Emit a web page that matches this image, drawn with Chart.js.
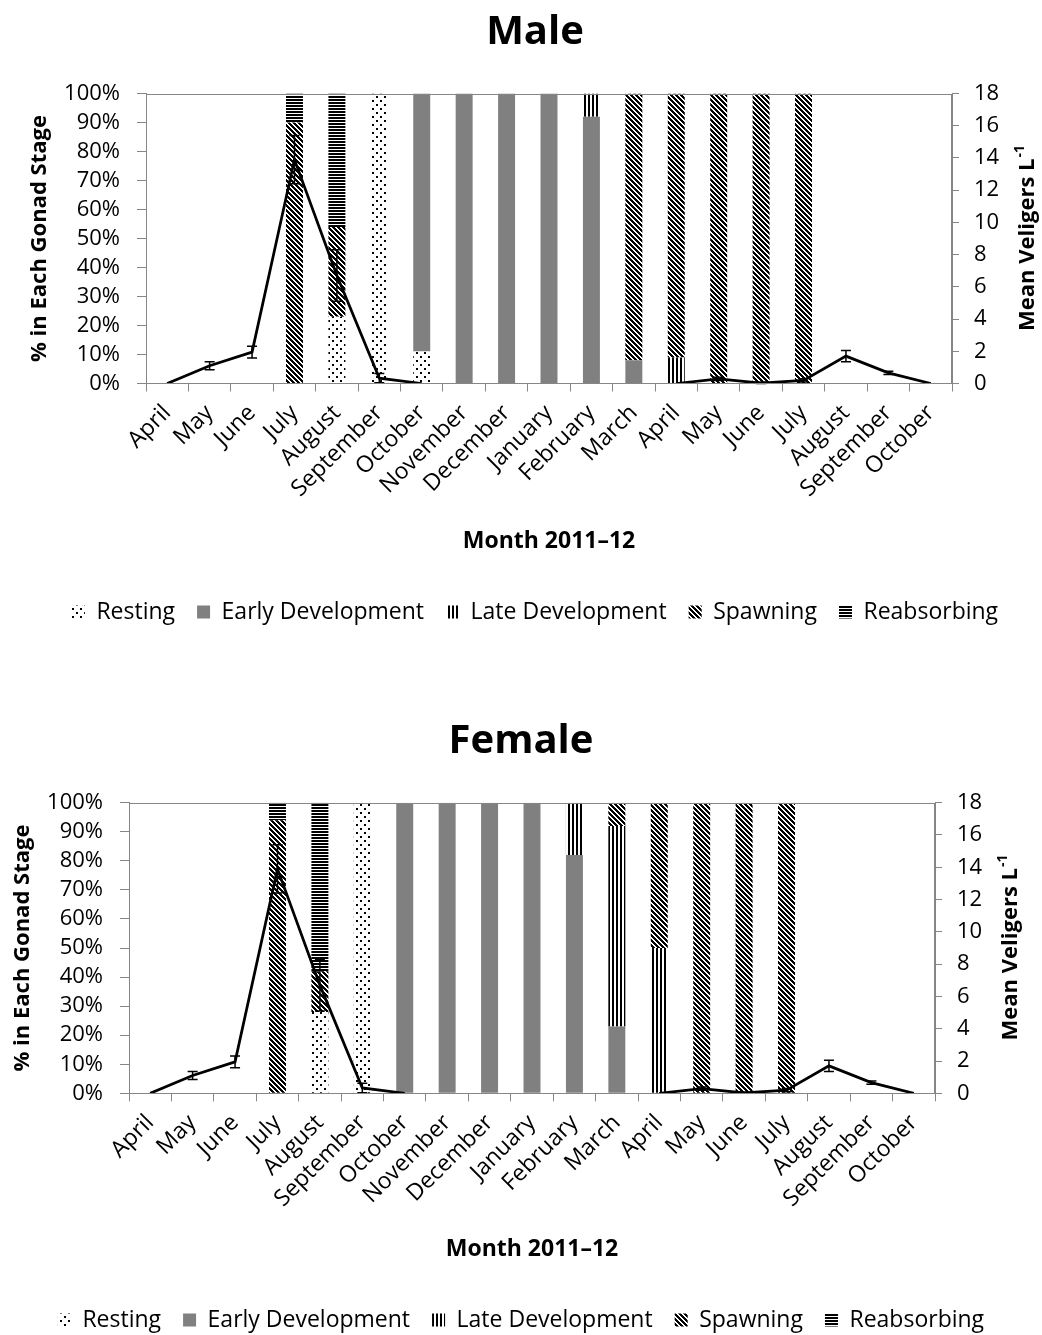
<!DOCTYPE html>
<html>
<head>
<meta charset="utf-8">
<script src="https://cdn.jsdelivr.net/npm/chart.js@4.4.0/dist/chart.umd.min.js"></script>
<style>
  html, body { margin: 0; padding: 0; background: #fff; overflow: hidden; }
  .box { position: absolute; left: 0; width: 1042px; }
  #maleBox { top: 0; }
  #femaleBox { top: 660px; }
</style>
</head>
<body>
<div class="box" id="maleBox"><canvas id="male" width="1042" height="660"></canvas></div>
<div class="box" id="femaleBox"><canvas id="female" width="1042" height="682"></canvas></div>
<script>
var months = ['April', 'May', 'June', 'July', 'August', 'September', 'October', 'November', 'December',
  'January', 'February', 'March', 'April', 'May', 'June', 'July', 'August', 'September', 'October'];

// % of animals in each gonad stage, male
var maleResting     = [0, 0, 0, 0, 23, 100, 11, 0, 0, 0, 0, 0, 0, 0, 0, 0, 0, 0, 0];
var maleEarly       = [0, 0, 0, 0, 0, 0, 89, 100, 100, 100, 92, 8, 0, 0, 0, 0, 0, 0, 0];
var maleLate        = [0, 0, 0, 0, 0, 0, 0, 0, 0, 0, 8, 0, 9, 0, 0, 0, 0, 0, 0];
var maleSpawning    = [0, 0, 0, 90, 31, 0, 0, 0, 0, 0, 0, 92, 91, 100, 100, 100, 0, 0, 0];
var maleReabsorbing = [0, 0, 0, 10, 46, 0, 0, 0, 0, 0, 0, 0, 0, 0, 0, 0, 0, 0, 0];

// % of animals in each gonad stage, female
var femaleResting     = [0, 0, 0, 0, 28, 100, 0, 0, 0, 0, 0, 0, 0, 0, 0, 0, 0, 0, 0];
var femaleEarly       = [0, 0, 0, 0, 0, 0, 100, 100, 100, 100, 82, 23, 0, 0, 0, 0, 0, 0, 0];
var femaleLate        = [0, 0, 0, 0, 0, 0, 0, 0, 0, 0, 18, 69, 50, 0, 0, 0, 0, 0, 0];
var femaleSpawning    = [0, 0, 0, 94, 14, 0, 0, 0, 0, 0, 0, 8, 50, 100, 100, 100, 0, 0, 0];
var femaleReabsorbing = [0, 0, 0, 6, 58, 0, 0, 0, 0, 0, 0, 0, 0, 0, 0, 0, 0, 0, 0];

// mean veligers per litre and error
var veligers   = [0, 1.1, 1.95, 13.9, 6.7, 0.33, 0, null, null, null, null, null, 0, 0.29, 0.02, 0.19, 1.7, 0.66, 0];
var veligerErr = [0, 0.25, 0.36, 1.5, 1.6, 0.29, 0, null, null, null, null, null, 0, 0.1, 0.05, 0.1, 0.35, 0.1, 0];

var FONT = "'Open Sans', sans-serif";
var AXIS_GREY = '#868686';
Chart.defaults.font.family = FONT;
Chart.defaults.color = '#000';

function tile(w, h, paint) {
  var c = document.createElement('canvas');
  c.width = w; c.height = h;
  var g = c.getContext('2d');
  g.fillStyle = '#fff';
  g.fillRect(0, 0, w, h);
  g.fillStyle = '#000';
  paint(g);
  return g.createPattern(c, 'repeat');
}

var patResting = tile(8, 8, function (g) { g.fillRect(0, 0, 2, 2); g.fillRect(4, 4, 2, 2); });
var patLate = tile(4, 4, function (g) { g.fillRect(0, 0, 2, 4); });
var patReabs = tile(3, 3, function (g) { g.fillRect(0, 0, 3, 2); });
var patSpawn = tile(5, 5, function (g) {
  for (var y = 0; y < 5; y++)
    for (var x = 0; x < 5; x++)
      if ((x - y + 5) % 5 < 3) g.fillRect(x, y, 1, 1);
});

var errorBars = {
  id: 'errorBars',
  afterDatasetsDraw: function (chart) {
    var idx = 5;
    var ds = chart.data.datasets[idx];
    var meta = chart.getDatasetMeta(idx);
    var ys = chart.scales.y1;
    var ctx = chart.ctx;
    ctx.save();
    ctx.strokeStyle = '#000';
    ctx.lineWidth = 1.5;
    meta.data.forEach(function (pt, i) {
      var v = ds.data[i], e = ds.errors[i];
      if (v == null || !e) return;
      var x = pt.x;
      var t = ys.getPixelForValue(v + e);
      var b = ys.getPixelForValue(Math.max(0, v - e));
      ctx.beginPath();
      ctx.moveTo(x, t); ctx.lineTo(x, b);
      ctx.moveTo(x - 5, t); ctx.lineTo(x + 5, t);
      ctx.moveTo(x - 5, b); ctx.lineTo(x + 5, b);
      ctx.stroke();
    });
    ctx.restore();
  }
};

var frame = {
  id: 'frame',
  afterDraw: function (chart) {
    var a = chart.chartArea, ctx = chart.ctx;
    ctx.save();
    ctx.strokeStyle = AXIS_GREY;
    ctx.lineWidth = 1;
    ctx.strokeRect(Math.round(a.left) + 0.5, Math.round(a.top) + 0.5,
      Math.round(a.right - a.left) - 1, Math.round(a.bottom - a.top) - 1);
    ctx.restore();
  }
};

// right axis title, reads bottom to top, with superscript
var rightTitle = {
  id: 'rightTitle',
  afterDraw: function (chart) {
    var a = chart.chartArea, ctx = chart.ctx;
    var main = 'Mean Veligers L', sup = '-1';
    ctx.save();
    ctx.fillStyle = '#000';
    ctx.font = 'bold 22px ' + FONT;
    var w1 = ctx.measureText(main).width;
    ctx.font = 'bold 14px ' + FONT;
    var w2 = ctx.measureText(sup).width;
    ctx.translate(a.right + 76, (a.top + a.bottom) / 2);
    ctx.rotate(-Math.PI / 2);
    ctx.textBaseline = 'middle';
    ctx.font = 'bold 22px ' + FONT;
    ctx.fillText(main, -(w1 + w2) / 2, 0);
    ctx.font = 'bold 14px ' + FONT;
    ctx.fillText(sup, -(w1 + w2) / 2 + w1 + 1, -8);
    ctx.restore();
  }
};

function makeChart(id, title, series, geo) {
  var ctx = document.getElementById(id).getContext('2d');
  var tickFont = { family: FONT, size: 22 };
  return new Chart(ctx, {
    type: 'bar',
    data: {
      labels: months,
      datasets: [
        { label: 'Resting', data: series[0], backgroundColor: patResting, borderWidth: 0, yAxisID: 'y', order: 1 },
        { label: 'Early Development', data: series[1], backgroundColor: '#808080', borderWidth: 0, yAxisID: 'y', order: 1 },
        { label: 'Late Development', data: series[2], backgroundColor: patLate, borderWidth: 0, yAxisID: 'y', order: 1 },
        { label: 'Spawning', data: series[3], backgroundColor: patSpawn, borderWidth: 0, yAxisID: 'y', order: 1 },
        { label: 'Reabsorbing', data: series[4], backgroundColor: patReabs, borderWidth: 0, yAxisID: 'y', order: 1 },
        {
          type: 'line', label: 'Mean Veligers', data: veligers, errors: veligerErr,
          borderColor: '#000', backgroundColor: '#000', borderWidth: 2.75, pointRadius: 0,
          fill: false, tension: 0, spanGaps: false, yAxisID: 'y1', order: 0
        }
      ]
    },
    options: {
      responsive: false,
      animation: false,
      layout: { padding: { left: geo.padLeft, right: 0, top: 0, bottom: geo.padBottom } },
      datasets: { bar: { categoryPercentage: 1, barPercentage: 0.4 } },
      plugins: {
        title: {
          display: true, text: title, color: '#000',
          font: { family: FONT, size: 40, weight: 'bold' },
          padding: { top: geo.titleTop, bottom: geo.titleBottom }
        },
        legend: {
          position: 'bottom',
          labels: {
            filter: function (item) { return item.datasetIndex < 5; },
            font: { family: FONT, size: 23 }, color: '#000',
            boxWidth: 13, boxHeight: 13, padding: 22
          }
        },
        tooltip: { enabled: false }
      },
      scales: {
        x: {
          stacked: true, offset: true,
          grid: { display: true, drawOnChartArea: false, tickLength: 8, color: AXIS_GREY, offset: true },
          border: { color: AXIS_GREY },
          ticks: { font: { family: FONT, size: 23 }, color: '#000', minRotation: 45, maxRotation: 45, autoSkip: false, padding: 8 },
          title: {
            display: true, text: 'Month 2011–12', color: '#000',
            font: { family: FONT, size: 23, weight: 'bold' },
            padding: { top: 0, bottom: geo.xTitlePad }
          },
          afterFit: function (s) { s.height = geo.xH; }
        },
        y: {
          stacked: true, position: 'left', min: 0, max: 100,
          ticks: { stepSize: 10, autoSkip: false, font: tickFont, color: '#000', padding: 17, callback: function (v) { return v + '%'; } },
          grid: { drawOnChartArea: false, tickLength: 9, color: AXIS_GREY },
          border: { color: AXIS_GREY },
          title: {
            display: true, text: '% in Each Gonad Stage', color: '#000',
            font: { family: FONT, size: 22, weight: 'bold' },
            padding: { top: geo.yTitlePad, bottom: 0 }
          },
          afterFit: function (s) { s.width = geo.left - geo.padLeft; }
        },
        y1: {
          position: 'right', min: 0, max: 18,
          ticks: { stepSize: 2, autoSkip: false, font: tickFont, color: '#000', padding: 15 },
          grid: { drawOnChartArea: false, tickLength: 7, color: AXIS_GREY },
          border: { color: AXIS_GREY },
          afterFit: function (s) { s.width = 1042 - geo.right; }
        }
      }
    },
    plugins: [errorBars, frame, rightTitle]
  });
}

makeChart('male', 'Male',
  [maleResting, maleEarly, maleLate, maleSpawning, maleReabsorbing],
  { padLeft: 28, left: 146, right: 952, titleTop: 9, titleBottom: 36.5, xH: 195, xTitlePad: 23.7, padBottom: 26.5, yTitlePad: -1 });

makeChart('female', 'Female',
  [femaleResting, femaleEarly, femaleLate, femaleSpawning, femaleReabsorbing],
  { padLeft: 0, left: 129, right: 935, titleTop: 58, titleBottom: 36.7, xH: 193.2, xTitlePad: 23.7, padBottom: 0.5, yTitlePad: 9.5 });
</script>
</body>
</html>
